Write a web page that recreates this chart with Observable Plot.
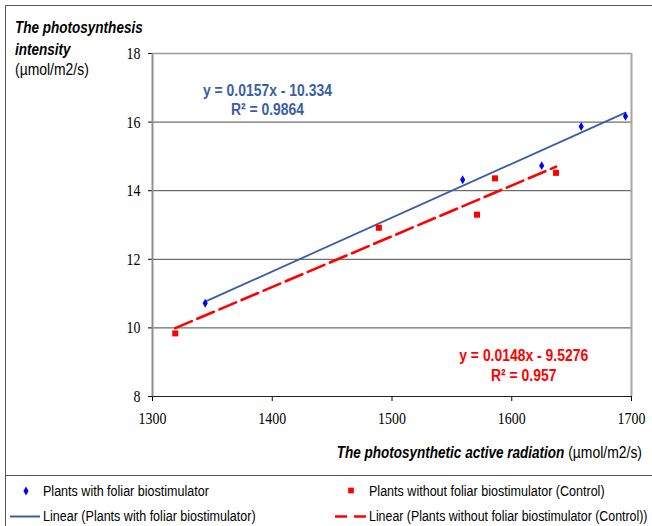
<!DOCTYPE html>
<html>
<head>
<meta charset="utf-8">
<script src="https://cdn.jsdelivr.net/npm/d3@7"></script>
<script src="https://cdn.jsdelivr.net/npm/@observablehq/plot@0.6"></script>
<style>
  html, body { margin: 0; padding: 0; background: #fff; }
  #figure { position: relative; width: 652px; height: 526px; overflow: hidden; background: #fff; }
  #figure > svg { position: absolute; left: 0; top: 0; }
</style>
</head>
<body>
<div id="figure"></div>
<script>
// Photosynthetic active radiation (µmol/m2/s) and photosynthesis intensity (µmol/m2/s)
const withX = [1344, 1559, 1625, 1658, 1695];
const withY = [10.72, 14.32, 14.73, 15.87, 16.17];
const controlX = [1319, 1489, 1571, 1586, 1637];
const controlY = [9.84, 12.92, 13.30, 14.36, 14.52];

// Linear trend fits for each group
const fitWith = { slope: 0.0157, intercept: -10.334, r2: 0.9864 };
const fitControl = { slope: 0.0148, intercept: -9.5276, r2: 0.957 };

const xTicks = [1300, 1400, 1500, 1600, 1700];
const yTicks = [8, 10, 12, 14, 16, 18];

const seriesNames = ["Plants with foliar biostimulator", "Plants without foliar biostimulator (Control)"];
const trendNames = seriesNames.map(n => `Linear (${n})`);

const BLUE_PT = "#0000ff", BLUE_LINE = "#3a5ea6", RED = "#ff0000";
const SANS = "'Liberation Sans', Arial, sans-serif";
const SQUEEZE = 0.82; // narrow lettering

const pts = (xs, ys) => xs.map((x, i) => ({ x, y: ys[i] }));
const trend = (xs, fit) => d3.extent(xs).map(x => ({ x, y: fit.slope * x + fit.intercept }));
const eqLines = fit => [`y = ${fit.slope}x - ${Math.abs(fit.intercept)}`, `R² = ${fit.r2}`];

const eqStyle = { fontFamily: SANS, fontSize: 17, fontWeight: "bold", textAnchor: "middle" };

function squeeze(el) {
  const x = parseFloat(el.getAttribute("x")) || 0;
  const t = el.getAttribute("transform") || "";
  el.setAttribute("transform", `${t} translate(${x},0) scale(${SQUEEZE},1) translate(${-x},0)`.trim());
}

const chart = Plot.plot({
  width: 652,
  height: 476,
  marginLeft: 152,
  marginRight: 21,
  marginTop: 53,
  marginBottom: 80,
  style: { fontFamily: "'Liberation Serif', 'Times New Roman', serif", fontSize: "17px", color: "#000", background: "transparent", overflow: "visible" },
  x: { domain: [1300, 1700], ticks: xTicks, tickFormat: d => String(d), tickSize: 5, tickPadding: 10, label: null },
  y: { domain: [8, 18], ticks: yTicks, tickFormat: d => String(d), tickSize: 4, tickPadding: 8, label: null },
  marks: [
    Plot.ruleY(yTicks.filter(v => v > 8 && v < 18), { stroke: "#4a4a4a", strokeWidth: 1 }),
    Plot.ruleY([18], { stroke: "#9a9a9a", strokeWidth: 1.5 }),
    Plot.ruleX([1700], { stroke: "#a6a6a6", strokeWidth: 2 }),
    Plot.ruleX([1300], { stroke: "#8f8f8f", strokeWidth: 2 }),
    Plot.ruleY([8], { stroke: "#222", strokeWidth: 1.2 }),
    Plot.line(trend(withX, fitWith), { x: "x", y: "y", stroke: BLUE_LINE, strokeWidth: 1.8 }),
    Plot.line(trend(controlX, fitControl), { x: "x", y: "y", stroke: RED, strokeWidth: 2.6, strokeDasharray: "18,6" }),
    Plot.dot(pts(withX, withY), { x: "x", y: "y", symbol: "diamond", r: 2.7, fill: BLUE_PT }),
    Plot.dot(pts(controlX, controlY), { x: "x", y: "y", symbol: "square", r: 3.4, fill: RED }),
    Plot.text([eqLines(fitWith)[0]], { x: 1396, y: 16.65, dy: -9.5, text: d => d, fill: BLUE_LINE, ...eqStyle }),
    Plot.text([eqLines(fitWith)[1]], { x: 1396, y: 16.65, dy: 9.5, text: d => d, fill: BLUE_LINE, ...eqStyle }),
    Plot.text([eqLines(fitControl)[0]], { x: 1610, y: 8.9, dy: -10, text: d => d, fill: RED, ...eqStyle }),
    Plot.text([eqLines(fitControl)[1]], { x: 1610, y: 8.9, dy: 10, text: d => d, fill: RED, ...eqStyle })
  ]
});
chart.querySelectorAll("text").forEach(squeeze);

const fig = document.getElementById("figure");
fig.appendChild(chart);

// Titles, border and legend
const svg = d3.create("svg").attr("width", 652).attr("height", 526);
const g = svg.append("g");

g.append("path").attr("d", "M5.5,526V5.5H652M5.5,475.5H652")
  .attr("fill", "none").attr("stroke", "#555").attr("stroke-width", 1);

function label(x, y, parts, anchor = "start") {
  const t = g.append("text").attr("x", x).attr("y", y)
    .attr("text-anchor", anchor).attr("font-family", SANS).attr("fill", "#000");
  parts.forEach(([txt, size, bold]) => {
    const s = t.append("tspan").attr("font-size", size).text(txt);
    if (bold) s.attr("font-weight", "bold").attr("font-style", "italic");
  });
  squeeze(t.node());
  return t;
}

label(15, 33, [["The photosynthesis", 16.5, true]]);
label(15, 55, [["intensity", 16.5, true]]);
label(15, 75, [["(µmol/m2/s)", 17, false]]);
label(642, 458, [["The photosynthetic active radiation", 16.5, true], [" (µmol/m2/s)", 17, false]], "end");

// legend entries
g.append("path").attr("transform", "translate(26,491)")
  .attr("d", d3.symbol(d3.symbolDiamond, 2.7 * 2.7 * Math.PI)()).attr("fill", BLUE_PT);
label(43, 496.5, [[seriesNames[0], 15.3, false]]);

g.append("path").attr("transform", "translate(351,490.5)")
  .attr("d", d3.symbol(d3.symbolSquare, 3.2 * 3.2 * Math.PI)()).attr("fill", RED);
label(369, 496.5, [[seriesNames[1], 15.3, false]]);

g.append("line").attr("x1", 10).attr("x2", 40).attr("y1", 516.5).attr("y2", 516.5)
  .attr("stroke", BLUE_LINE).attr("stroke-width", 2);
label(43, 521.5, [[trendNames[0], 15.3, false]]);

g.append("line").attr("x1", 335).attr("x2", 366).attr("y1", 516.5).attr("y2", 516.5)
  .attr("stroke", RED).attr("stroke-width", 2.5).attr("stroke-dasharray", "12,7");
label(369, 521.5, [[trendNames[1], 15.1, false]]);

fig.appendChild(svg.node());
</script>
</body>
</html>
